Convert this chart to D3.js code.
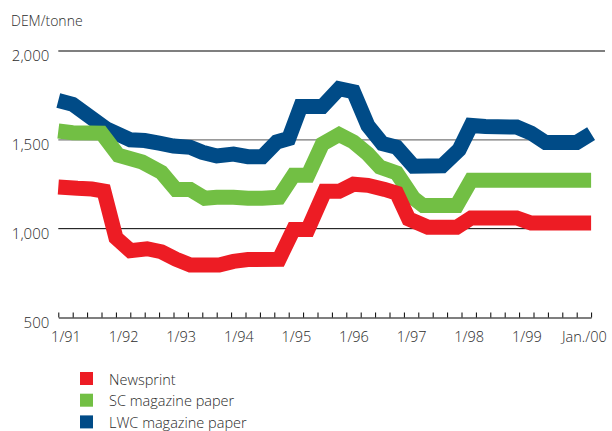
<!DOCTYPE html>
<html>
<head>
<meta charset="utf-8">
<script src="https://cdn.jsdelivr.net/npm/d3@7"></script>
<style>
  html, body { margin: 0; padding: 0; background: #fff; }
  svg { display: block; font-family: "Open Sans", "Noto Sans", sans-serif; font-weight: 300; }
</style>
</head>
<body>
<svg id="chart" width="612" height="431"></svg>
<script>
// ---- data (x = months since Jan 1991, y = DEM/tonne) ----
const seriesNames = ["Newsprint", "SC magazine paper", "LWC magazine paper"];
const seriesColors = ["#ED1C24", "#72BF44", "#004B87"];

const newsprint = [[0,1235],[4,1227],[7,1223],[9.5,1212],[12,949],[15,876],[18.5,887],[21.5,870],[24.5,828],[27.5,796],[33.5,796],[36.5,816],[39.5,826],[46,828],[49,996],[52,996],[55.5,1210],[58.5,1210],[61.5,1250],[64.5,1244],[68,1221],[70.5,1200],[73,1055],[77,1008],[83,1008],[86,1060],[95.5,1060],[98.5,1032],[111,1032]];

const scPaper = [[0,1550],[3,1540],[9,1538],[12.5,1413],[17.5,1375],[21.5,1317],[24.5,1220],[27.5,1220],[30.5,1171],[33,1177],[36.5,1177],[39.5,1171],[42.5,1171],[46,1177],[49,1300],[52,1300],[55,1476],[58.5,1530],[61.5,1488],[64.5,1420],[67,1347],[70.5,1313],[74,1172],[76,1130],[83,1130],[86,1272],[111,1272]];

const lwcPaper = [[0,1721],[3,1700],[10,1562],[15,1500],[18,1496],[21,1481],[24,1465],[27.5,1458],[30,1430],[33,1409],[36.5,1420],[39.5,1405],[42.5,1405],[45.5,1488],[48,1507],[50.5,1687],[55,1687],[58.5,1788],[61.5,1771],[64.5,1580],[67.5,1479],[70.5,1458],[74,1352],[80,1354],[83.5,1444],[86,1581],[89,1575],[95.5,1572],[98.5,1538],[101.5,1485],[108,1485],[111,1535]];

const xTickLabels = ["1/91","1/92","1/93","1/94","1/95","1/96","1/97","1/98","1/99","Jan./00"];
const xLabelMonths = [1.5, 13.5, 25.5, 37.5, 49.5, 61.5, 73.5, 85.5, 97.5, 109.5];
const quarterTicks = d3.range(0, 112, 3);
const yTickValues = [500, 1000, 1500, 2000];
const unitLabel = "DEM/tonne";

// ---- scales ----
const svg = d3.select("#chart");
const x = d3.scaleLinear().domain([0, 111]).range([58.3, 591.1]);
const y = d3.scaleLinear().domain([500, 2000]).range([317.5, 51]);

// ---- gridlines ----
const gridStyle = {
  2000: {stroke: "#555", w: 1.6, x2: 605},
  1500: {stroke: "#777", w: 1.2, x2: 591},
  1000: {stroke: "#000", w: 1.0, x2: 591}
};
svg.append("g").selectAll("line")
  .data([2000, 1500, 1000])
  .join("line")
  .attr("x1", x(0)).attr("x2", d => gridStyle[d].x2)
  .attr("y1", d => y(d)).attr("y2", d => y(d))
  .attr("stroke", d => gridStyle[d].stroke)
  .attr("stroke-width", d => gridStyle[d].w);

// ---- y axis labels ----
const yAxis = svg.append("g")
  .attr("transform", `translate(${x(0)},0)`)
  .call(d3.axisLeft(y).tickValues(yTickValues).tickSize(0).tickPadding(9).tickFormat(d3.format(",")));
yAxis.select(".domain").remove();
yAxis.selectAll("text")
  .attr("dy", "0.66em")
  .attr("fill", "#2b2b2b")
  .style("font-size", "15px")
  .style("font-weight", "300")
  .style("font-family", "'Open Sans', sans-serif");

// ---- x axis (quarter ticks pointing up) ----
const xAxis = svg.append("g")
  .attr("transform", `translate(0,${y(500)})`)
  .call(d3.axisBottom(x).tickValues(quarterTicks).tickSize(-5).tickSizeOuter(0).tickFormat(""));
xAxis.select(".domain").attr("stroke", "#000").attr("stroke-width", 1.2);
xAxis.selectAll(".tick line").attr("stroke", "#000").attr("stroke-width", 1);

const xLab = svg.append("g")
  .attr("transform", `translate(0,${y(500)})`)
  .call(d3.axisBottom(x).tickValues(xLabelMonths).tickSize(0).tickPadding(0)
        .tickFormat((d, i) => xTickLabels[i]));
xLab.select(".domain").remove();
xLab.selectAll("text")
  .attr("y", 0).attr("dy", "24px")
  .attr("fill", "#2b2b2b")
  .style("font-size", "14.5px")
  .style("font-weight", "300")
  .style("font-family", "'Open Sans', sans-serif");

// ---- lines ----
const line = d3.line().x(d => x(d[0])).y(d => y(d[1]));
const drawOrder = [[lwcPaper, 2], [scPaper, 1], [newsprint, 0]];
svg.append("g").selectAll("path")
  .data(drawOrder)
  .join("path")
  .attr("d", d => line(d[0]))
  .attr("fill", "none")
  .attr("stroke", d => seriesColors[d[1]])
  .attr("stroke-width", 15)
  .attr("stroke-linejoin", "miter")
  .attr("stroke-miterlimit", 4)
  .attr("stroke-linecap", "butt");

// ---- unit label ----
svg.append("text")
  .attr("x", 11).attr("y", 26)
  .attr("fill", "#2b2b2b")
  .style("font-size", "14px")
  .text(unitLabel);

// ---- legend ----
const legend = svg.append("g").attr("transform", "translate(80,372)");
const items = legend.selectAll("g")
  .data(seriesNames)
  .join("g")
  .attr("transform", (d, i) => `translate(0,${i * 21.7})`);
items.append("rect")
  .attr("width", 13).attr("height", 13)
  .attr("fill", (d, i) => seriesColors[i]);
items.append("text")
  .attr("x", 29).attr("y", 12.5)
  .attr("fill", "#2b2b2b")
  .style("font-size", "14.5px")
  .text(d => d);
</script>
</body>
</html>
